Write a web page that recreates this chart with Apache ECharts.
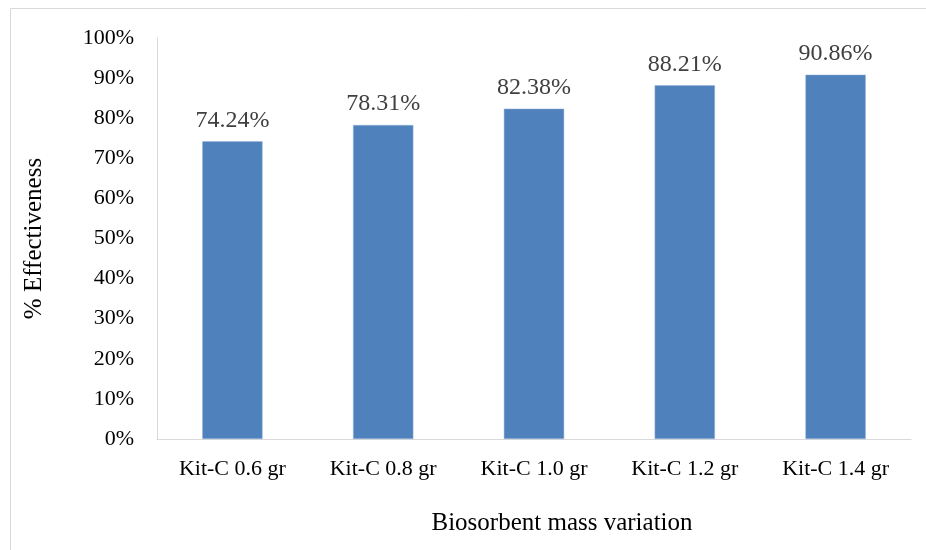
<!DOCTYPE html>
<html><head><meta charset="utf-8">
<script src="https://cdn.jsdelivr.net/npm/echarts@6/dist/echarts.min.js"></script>
<style>html,body{margin:0;padding:0;background:#fff}#c{width:926px;height:550px}</style>
</head><body><div id="c"></div>
<script>
const categories = ['Kit-C 0.6 gr','Kit-C 0.8 gr','Kit-C 1.0 gr','Kit-C 1.2 gr','Kit-C 1.4 gr'];
const values = [74.24, 78.31, 82.38, 88.21, 90.86];
const yTicks = [0,10,20,30,40,50,60,70,80,90,100];
const font = '"Liberation Serif", "DejaVu Serif", serif';
const chart = echarts.init(document.getElementById('c'));
chart.setOption({
  animation: false,
  graphic: [{type:'rect', shape:{x:10.5,y:8.5,width:930,height:560}, style:{fill:'none', stroke:'#d9d9d9', lineWidth:1}}],
  grid: {left:157, right:15, top:38, bottom:111},
  xAxis: {
    type:'category', data:categories,
    axisLine:{lineStyle:{color:'#d9d9d9'}}, axisTick:{show:false},
    axisLabel:{color:'#000', fontFamily:font, fontSize:22, margin:19},
    name:'Biosorbent mass variation', nameLocation:'middle', nameGap:72,
    nameTextStyle:{color:'#000', fontFamily:font, fontSize:25, padding:[0,0,0,56]}
  },
  yAxis: {
    type:'value', min:0, max:100, interval:10,
    axisLine:{show:true, lineStyle:{color:'#d9d9d9'}}, axisTick:{show:false},
    splitLine:{show:false},
    axisLabel:{color:'#000', fontFamily:font, fontSize:22, margin:23, formatter: v => yTicks.includes(v) ? v + '%' : ''},
    name:'% Effectiveness', nameLocation:'middle', nameGap:110, nameRotate:90,
    nameTextStyle:{color:'#000', fontFamily:font, fontSize:25}
  },
  series: [{
    type:'bar', data:values, barCategoryGap:'60%',
    itemStyle:{color:'#4F81BD', borderColor:'#9bb7db', borderWidth:0.5},
    label:{show:true, position:'top', distance:9, color:'#404040', fontFamily:font, fontSize:24, formatter: p => p.value.toFixed(2) + '%'}
  }]
});
</script></body></html>
